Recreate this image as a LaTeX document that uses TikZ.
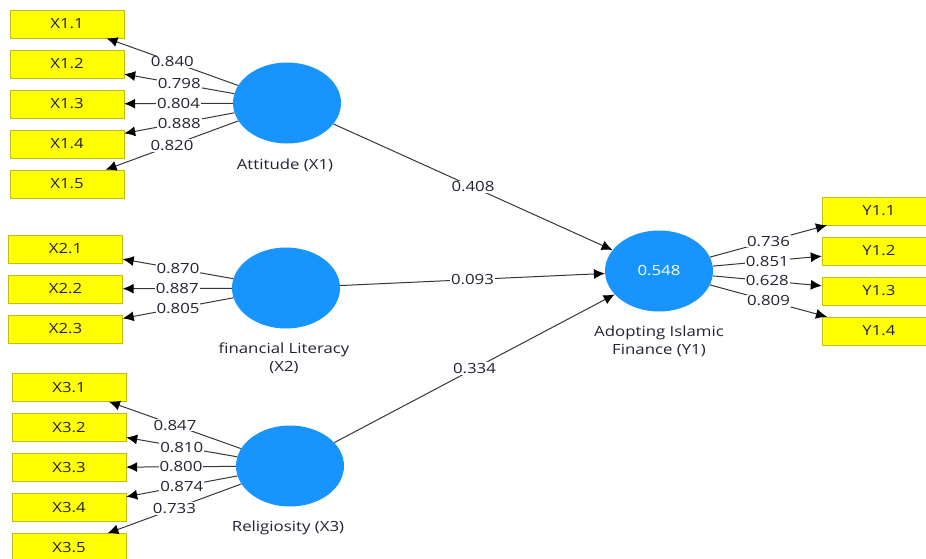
\documentclass[tikz,border=0pt]{standalone}
\usepackage{fontspec}
\setmainfont[FakeStretch=1.2]{Open Sans}
\usetikzlibrary{arrows.meta,shapes.geometric}
\definecolor{lvblue}{RGB}{24,148,255}
\definecolor{boxfill}{RGB}{255,255,0}
\definecolor{boxline}{RGB}{190,190,20}
\definecolor{txt}{RGB}{35,35,50}
\definecolor{lnc}{RGB}{55,55,55}
\begin{document}
\begin{tikzpicture}[x=1pt,y=-1pt,
  font=\fontsize{14}{18}\selectfont,
  ind/.style={rectangle,draw=boxline,fill=boxfill,minimum width=114pt,minimum height=28pt,inner sep=0pt,text=txt},
  lat/.style={ellipse,fill=lvblue,minimum width=108pt,minimum height=81pt,inner sep=0pt,text=white},
  lbl/.style={text=txt,align=center,inner sep=0pt},
  con/.style={draw=lnc,line width=1pt,-{Latex[length=11pt,width=10pt,color=black]}},
  val/.style={fill=white,inner sep=1pt,text=txt}]
\useasboundingbox (0,0) rectangle (926,558);
\clip (0,0) rectangle (926,558);
\fill[white] (0,0) rectangle (926,558);
% indicators X1
\node[ind] (x11) at (67,24) {X1.1};
\node[ind] (x12) at (67,64) {X1.2};
\node[ind] (x13) at (67,104) {X1.3};
\node[ind] (x14) at (67,144) {X1.4};
\node[ind] (x15) at (67,184) {X1.5};
% indicators X2
\node[ind] (x21) at (65.5,249) {X2.1};
\node[ind] (x22) at (65.5,289) {X2.2};
\node[ind] (x23) at (65.5,329) {X2.3};
% indicators X3
\node[ind] (x31) at (69,387.5) {X3.1};
\node[ind] (x32) at (69,427.5) {X3.2};
\node[ind] (x33) at (69,467.5) {X3.3};
\node[ind] (x34) at (69,507.5) {X3.4};
\node[ind] (x35) at (69,547.5) {X3.5};
% indicators Y1
\node[ind] (y11) at (879,211) {Y1.1};
\node[ind] (y12) at (879,251) {Y1.2};
\node[ind] (y13) at (879,291) {Y1.3};
\node[ind] (y14) at (879,331) {Y1.4};
% latent variables
\node[lat] (e1) at (287,103) {};
\node[lat] (e2) at (286,288) {};
\node[lat] (e3) at (290,466) {};
\node[lat] (ey) at (659,271) {0.548};
% latent labels
\node[lbl] (l1) at (285,165) {Attitude (X1)};
\node[lbl] (l2) at (284,358) {financial Literacy\\(X2)};
\node[lbl] (l3) at (288,528) {Religiosity (X3)};
\node[lbl] (ly) at (659,341) {Adopting Islamic\\Finance (Y1)};
% outer loadings X1
\draw[con] (e1) -- node[val]{0.840} (x11);
\draw[con] (e1) -- node[val]{0.798} (x12);
\draw[con] (e1) -- node[val]{0.804} (x13);
\draw[con] (e1) -- node[val]{0.888} (x14);
\draw[con] (e1) -- node[val]{0.820} (x15);
% X2
\draw[con] (e2) -- node[val]{0.870} (x21);
\draw[con] (e2) -- node[val]{0.887} (x22);
\draw[con] (e2) -- node[val]{0.805} (x23);
% X3
\draw[con] (e3) -- node[val]{0.847} (x31);
\draw[con] (e3) -- node[val]{0.810} (x32);
\draw[con] (e3) -- node[val]{0.800} (x33);
\draw[con] (e3) -- node[val]{0.874} (x34);
\draw[con] (e3) -- node[val]{0.733} (x35);
% Y1
\draw[con] (ey) -- node[val]{0.736} (y11);
\draw[con] (ey) -- node[val]{0.851} (y12);
\draw[con] (ey) -- node[val]{0.628} (y13);
\draw[con] (ey) -- node[val]{0.809} (y14);
% path coefficients
\draw[con] (e1) -- node[val]{0.408} (ey);
\draw[con] (e2) -- node[val]{0.093} (ey);
\draw[con] (e3) -- node[val]{0.334} (ey);
\end{tikzpicture}
\end{document}
